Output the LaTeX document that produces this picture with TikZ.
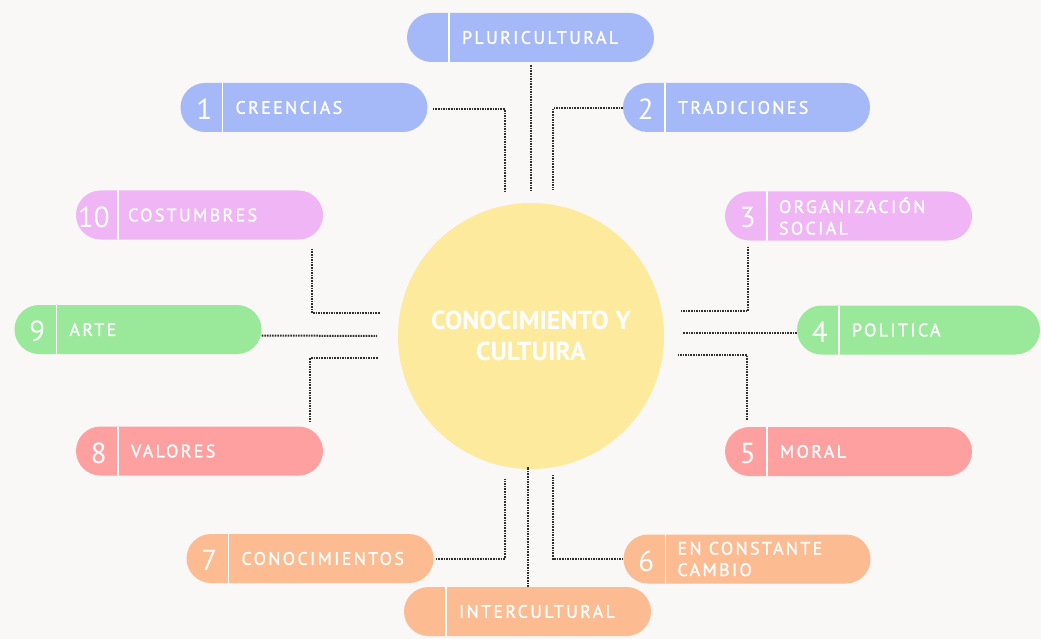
\documentclass[tikz,border=0pt]{standalone}
\usepackage{fontspec}
\newfontfamily\lblfont[LetterSpace=13,FakeBold=1.3]{PT Sans}
\newfontfamily\numfont{PT Sans}
\newfontfamily\corefont{PT Sans}
\definecolor{blueC}{HTML}{A5B8F8}
\definecolor{pinkC}{HTML}{F0B5F4}
\definecolor{greenC}{HTML}{9AE899}
\definecolor{redC}{HTML}{FFA0A0}
\definecolor{orangeC}{HTML}{FDBB91}
\definecolor{yellowC}{HTML}{FEEA9C}
\definecolor{bgC}{HTML}{F9F8F6}
\definecolor{dotC}{HTML}{2E2E2E}

\begin{document}
\begin{tikzpicture}[
  x=1pt, y=-1pt,
  pill/.style={rectangle, rounded corners=24.5pt, minimum width=247pt, minimum height=49pt, inner sep=0pt,
    path picture={\draw[white, line width=1.6pt] ([xshift=42pt]path picture bounding box.north west) -- ([xshift=42pt]path picture bounding box.south west);}},
  num/.style={text=white, font=\numfont\fontsize{29}{30}\selectfont, inner sep=0pt},
  lbl/.style={text=white, anchor=west, align=left, inner sep=0pt, font=\lblfont\fontsize{18}{21.5}\selectfont},
  core/.style={circle, fill=yellowC, minimum size=266pt, text=white, align=center, font=\corefont\bfseries\fontsize{26}{31}\selectfont},
  link/.style={draw=dotC, line width=2pt, dash pattern=on 1.6pt off 1pt}
]
\fill[bgC] (0,0) rectangle (1041,639);
\useasboundingbox (0,0) rectangle (1041,639);

% Centre
\node[core] (core) at (531,336) {CONOCIMIENTO Y\\CULTUIRA};

% Top
\node[pill, fill=blueC] (plur) at (530.5,37.5) {};
\node[lbl] (lp) at ([xshift=55pt]plur.west) {PLURICULTURAL};

\node[pill, fill=blueC] (creencias) at (304,107.5) {};
\node[num] (n1) at ([xshift=24pt,yshift=-2pt]creencias.west) {1};
\node[lbl] (l1) at ([xshift=55pt]creencias.west) {CREENCIAS};

\node[pill, fill=blueC] (tradiciones) at (746.5,107.5) {};
\node[num] (n2) at ([xshift=23pt,yshift=-2pt]tradiciones.west) {2};
\node[lbl] (l2) at ([xshift=55pt]tradiciones.west) {TRADICIONES};

% Right side
\node[pill, fill=pinkC] (organizacion) at (848.5,216) {};
\node[num] (n3) at ([xshift=23pt,yshift=-2pt]organizacion.west) {3};
\node[lbl] (l3) at ([xshift=54pt]organizacion.west) {ORGANIZACIÓN\\SOCIAL};

\node[pill, fill=greenC, minimum width=243pt] (politica) at (918.5,330) {};
\node[num] (n4) at ([xshift=23pt,yshift=-2pt]politica.west) {4};
\node[lbl] (l4) at ([xshift=55pt]politica.west) {POLITICA};

\node[pill, fill=redC] (moral) at (848.5,451.5) {};
\node[num] (n5) at ([xshift=23pt,yshift=-2pt]moral.west) {5};
\node[lbl] (l5) at ([xshift=55pt]moral.west) {MORAL};

% Bottom
\node[pill, fill=orangeC] (cambio) at (747,559) {};
\node[num] (n6) at ([xshift=23pt,yshift=-2pt]cambio.west) {6};
\node[lbl] (l6) at ([xshift=54pt]cambio.west) {EN CONSTANTE\\CAMBIO};

\node[pill, fill=orangeC] (conocimientos) at (310,558.5) {};
\node[num] (n7) at ([xshift=23pt,yshift=-2pt]conocimientos.west) {7};
\node[lbl] (l7) at ([xshift=55pt]conocimientos.west) {CONOCIMIENTOS};

\node[pill, fill=orangeC] (intercultural) at (527.5,611.5) {};
\node[lbl] (li) at ([xshift=55pt]intercultural.west) {INTERCULTURAL};

% Left side
\node[pill, fill=redC] (valores) at (199.5,451) {};
\node[num] (n8) at ([xshift=23pt,yshift=-2pt]valores.west) {8};
\node[lbl] (l8) at ([xshift=55pt]valores.west) {VALORES};

\node[pill, fill=greenC] (arte) at (138,329.5) {};
\node[num] (n9) at ([xshift=23pt,yshift=-2pt]arte.west) {9};
\node[lbl] (l9) at ([xshift=55pt]arte.west) {ARTE};

\node[pill, fill=pinkC] (costumbres) at (199.5,215) {};
\node[num] (n10) at ([xshift=18pt,yshift=-2pt]costumbres.west) {10};
\node[lbl] (l10) at ([xshift=52pt]costumbres.west) {COSTUMBRES};

% Connector ends near the centre
\coordinate (cP) at (530.5,191);
\coordinate (c1) at (505,192);
\coordinate (c2) at (553,190);
\coordinate (c3) at (680,311);
\coordinate (c4) at (683,333);
\coordinate (c5) at (678,355);
\coordinate (c6) at (553,475);
\coordinate (c7) at (505,479);
\coordinate (cI) at (528,467);
\coordinate (c8) at (378,358);
\coordinate (c9) at (377,336);
\coordinate (c10) at (380,313);

% Connectors
\draw[link] ([yshift=-3pt]plur.south) -- (cP);
\draw[link] ([xshift=5pt,yshift=-2pt]creencias.east) -| (c1);
\draw[link] ([yshift=-1pt]tradiciones.west) -| (c2);
\draw[link] ([xshift=23pt,yshift=-6pt]organizacion.south west) |- (c3);
\draw[link] ([yshift=-3pt]politica.west) -- (c4);
\draw[link] ([xshift=22pt,yshift=7pt]moral.north west) |- (c5);
\draw[link] (cambio.west) -| (c6);
\draw[link] ([xshift=2pt]conocimientos.east) -| (c7);
\draw[link] ([xshift=0.5pt]intercultural.north) -- (cI);
\draw[link] ([xshift=-13pt,yshift=4pt]valores.north east) |- (c8);
\draw[link] ([yshift=-6pt]arte.east) -- (c9);
\draw[link] ([xshift=-11pt,yshift=-9pt]costumbres.south east) |- (c10);

\end{tikzpicture}
\end{document}
